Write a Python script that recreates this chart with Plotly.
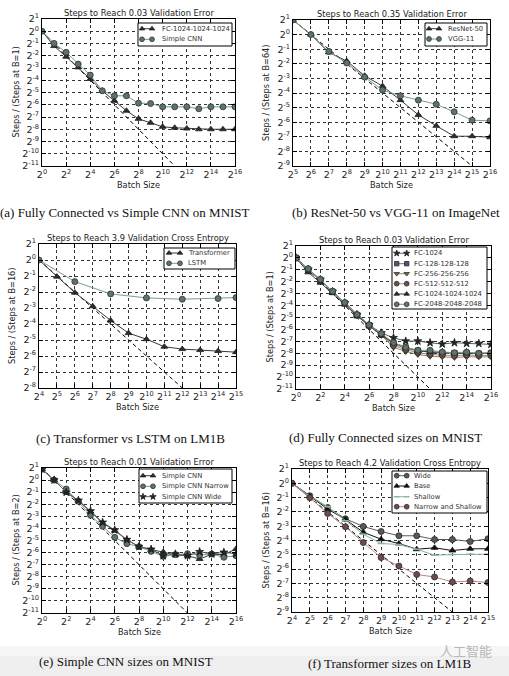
import math
import plotly.graph_objects as go

W, H = 509, 676

# ---------------- data (values are log2 of steps ratio) ----------------
# (a) Fully Connected vs Simple CNN on MNIST
a_batch_log2 = list(range(0, 17))
a_fc_1024x3 = [0, -1.21, -2.08, -2.95, -3.9, -4.86, -5.68, -6.49, -7.15, -7.47, -7.8, -7.88, -7.94, -8.0, -8.0, -8.0, -8.0]
a_simple_cnn = [0, -0.99, -1.72, -2.68, -3.58, -4.86, -5.27, -5.27, -5.87, -5.9, -6.17, -6.17, -6.17, -6.33, -6.17, -6.17, -6.17]
a_ideal_x = [0, 16]
a_ideal_y = [0, -16]

# (b) ResNet-50 vs VGG-11 on ImageNet
b_batch_log2 = list(range(5, 17))
b_resnet50 = [1, 0, -1.22, -1.81, -2.82, -3.53, -4.49, -5.5, -6.25, -6.96, -6.96, -7.03]
b_vgg11 = [1, 0, -1.15, -1.95, -2.91, -3.8, -4.19, -4.49, -4.77, -5.29, -5.86, -5.91]
b_ideal_x = [5, 16]
b_ideal_y = [1, -10]

# (c) Transformer vs LSTM on LM1B
c_batch_log2 = list(range(4, 16))
c_transformer = [0, -1.04, -2.04, -2.89, -3.78, -4.57, -4.95, -5.42, -5.57, -5.63, -5.69, -5.76]
c_lstm_batch_log2 = [4, 6, 8, 10, 12, 14, 15]
c_lstm = [0, -1.35, -2.12, -2.37, -2.45, -2.41, -2.35]
c_ideal_x = [4, 15]
c_ideal_y = [0, -11]

# (d) Fully Connected sizes on MNIST
d_batch_log2 = list(range(0, 17))
d_fc_1024 = [0, -0.95, -1.82, -2.82, -3.77, -4.75, -5.62, -6.3, -6.7, -6.98, -6.98, -7.12, -7.23, -7.12, -7.18, -7.18, -7.26]
d_fc_128x3 = [0, -1.0, -1.85, -2.85, -3.8, -4.8, -5.65, -6.4, -7.2, -7.6, -7.8, -7.9, -8.0, -8.0, -8.0, -8.05, -8.0]
d_fc_256x3 = [0, -1.05, -1.88, -2.85, -3.85, -4.85, -5.7, -6.5, -7.5, -7.85, -8.1, -8.25, -8.3, -8.35, -8.3, -8.3, -8.3]
d_fc_512x3 = [0, -1.0, -1.85, -2.82, -3.8, -4.8, -5.68, -6.45, -7.35, -7.7, -7.95, -8.1, -8.15, -8.2, -8.15, -8.2, -8.2]
d_fc_1024x3 = [0, -1.21, -2.08, -2.95, -3.9, -4.86, -5.68, -6.49, -7.15, -7.47, -7.8, -7.88, -7.94, -8.0, -8.0, -8.0, -8.0]
d_fc_2048x3 = [0, -0.9, -1.8, -2.8, -3.75, -4.75, -5.62, -6.35, -7.1, -7.5, -7.75, -7.75, -7.9, -7.95, -7.9, -8.0, -7.95]
d_ideal_x = [0, 16]
d_ideal_y = [0, -16]

# (e) Simple CNN sizes on MNIST
e_batch_log2 = list(range(0, 17))
e_simple_cnn = [0.9, 0, -1.01, -1.7, -2.61, -3.55, -4.19, -4.93, -5.51, -5.76, -5.95, -6.2, -6.26, -6.53, -6.14, -6.17, -5.7]
e_simple_cnn_narrow = [0.9, 0, -0.74, -1.76, -2.92, -3.83, -4.74, -5.26, -5.51, -5.9, -6.31, -6.17, -6.09, -6.2, -6.12, -6.39, -6.26]
e_simple_cnn_wide = [0.9, 0, -1.01, -1.68, -2.56, -3.5, -4.13, -4.93, -5.51, -5.73, -6.26, -6.12, -6.26, -5.93, -6.12, -5.98, -6.1]
e_ideal_x = [0, 16]
e_ideal_y = [1, -15]

# (f) Transformer sizes on LM1B
f_batch_log2 = list(range(4, 16))
f_wide = [0, -0.87, -1.69, -2.48, -3.02, -3.37, -3.67, -3.67, -3.93, -3.93, -4.07, -3.88]
f_base = [0, -0.9, -1.8, -2.53, -3.42, -3.91, -4.21, -4.61, -4.51, -4.7, -4.58, -4.58]
f_shallow = [0, -0.9, -1.64, -2.62, -3.56, -4.21, -4.28, -4.61, -5.03, -4.98, -4.96, -4.96]
f_narrow_shallow = [0, -1.01, -2.11, -3.04, -4.14, -5.19, -5.78, -6.38, -6.55, -6.9, -6.83, -6.94]
f_ideal_x = [4, 15]
f_ideal_y = [0, -11]

# ---------------- styles ----------------
S_TRI = dict(symbol='triangle-up', size=6, fill='#2e2e2e', edge='#1a1a1a', line='#3a3a3a')
S_TRI_K = dict(symbol='triangle-up', size=6, fill='#111111', edge='#111111', line='#111111')
S_CIRC_G = dict(symbol='circle', size=6, fill='#5f7468', edge='#2a332e', line='#7d9c8a')
S_STAR = dict(symbol='star', size=6, fill='#262626', edge='#1a1a1a', line='#56665f')
S_SQ = dict(symbol='square', size=5.5, fill='#55556a', edge='#2a2a35', line='#70708a')
S_TRI_D = dict(symbol='triangle-down', size=6, fill='#6e6a30', edge='#333333', line='#8d8a55')
S_CIRC_P = dict(symbol='circle', size=6, fill='#6a4e4e', edge='#3a2828', line='#b48a8a')
S_CIRC_W = dict(symbol='circle', size=6, fill='#555b58', edge='#2a2a2a', line='#5a5a5a')
S_SHALLOW = dict(symbol='line-ew', size=5, fill='#8ab59c', edge='#8ab59c', line='#8ab59c', ew=1.5)

FONT = 'DejaVu Sans'
SERIF = 'Liberation Serif'

panels = [
    dict(box=(42, 19, 235, 166), xr=(0, 16), yr=(-11, 1), xstep=2,
         title='Steps to Reach 0.03 Validation Error', ytitle='Steps / (Steps at B=1)',
         caption='(a) Fully Connected vs Simple CNN on MNIST', cap=(125, 212),
         ideal=(a_ideal_x, a_ideal_y),
         series=[('FC-1024-1024-1024', a_batch_log2, a_fc_1024x3, S_TRI),
                 ('Simple CNN', a_batch_log2, a_simple_cnn, S_CIRC_G)],
         leg=dict(box=(138, 23, 232, 46), gx=(142, 152), tx=160, rows=[28.7, 39.3])),
    dict(box=(293, 20, 490, 166), xr=(5, 16), yr=(-9, 1), xstep=1,
         title='Steps to Reach 0.35 Validation Error', ytitle='Steps / (Steps at B=64)',
         caption='(b) ResNet-50 vs VGG-11 on ImageNet', cap=(396, 212),
         ideal=(b_ideal_x, b_ideal_y),
         series=[('ResNet-50', b_batch_log2, b_resnet50, S_TRI),
                 ('VGG-11', b_batch_log2, b_vgg11, S_CIRC_G)],
         leg=dict(box=(425, 23, 487, 46), gx=(429, 439), tx=446, rows=[28.7, 39.0])),
    dict(box=(39, 244, 236, 388), xr=(4, 15), yr=(-8, 1), xstep=1,
         title='Steps to Reach 3.9 Validation Cross Entropy', ytitle='Steps / (Steps at B=16)',
         caption='(c) Transformer vs LSTM on LM1B', cap=(130, 438),
         ideal=(c_ideal_x, c_ideal_y),
         series=[('Transformer', c_batch_log2, c_transformer, S_TRI),
                 ('LSTM', c_lstm_batch_log2, c_lstm, S_CIRC_G)],
         leg=dict(box=(164, 248, 235, 269), gx=(169, 180), tx=186, rows=[253.0, 263.3])),
    dict(box=(296, 246, 491, 389), xr=(0, 16), yr=(-11, 1), xstep=2,
         title='Steps to Reach 0.03 Validation Error', ytitle='Steps / (Steps at B=1)',
         caption='(d) Fully Connected sizes on MNIST', cap=(385, 437),
         ideal=(d_ideal_x, d_ideal_y),
         series=[('FC-1024', d_batch_log2, d_fc_1024, S_STAR),
                 ('FC-128-128-128', d_batch_log2, d_fc_128x3, S_SQ),
                 ('FC-256-256-256', d_batch_log2, d_fc_256x3, S_TRI_D),
                 ('FC-512-512-512', d_batch_log2, d_fc_512x3, S_CIRC_P),
                 ('FC-1024-1024-1024', d_batch_log2, d_fc_1024x3, S_TRI),
                 ('FC-2048-2048-2048', d_batch_log2, d_fc_2048x3, S_CIRC_G)],
         leg=dict(box=(392, 247, 487, 309), gx=(396.7, 406.7), tx=412,
                  rows=[253.3, 263.7, 273.7, 283.7, 294.0, 304.3])),
    dict(box=(42, 468, 236, 613), xr=(0, 16), yr=(-11, 1), xstep=2,
         title='Steps to Reach 0.01 Validation Error', ytitle='Steps / (Steps at B=2)',
         caption='(e) Simple CNN sizes on MNIST', cap=(126, 661),
         ideal=(e_ideal_x, e_ideal_y),
         series=[('Simple CNN', e_batch_log2, e_simple_cnn, S_TRI),
                 ('Simple CNN Narrow', e_batch_log2, e_simple_cnn_narrow, S_CIRC_G),
                 ('Simple CNN Wide', e_batch_log2, e_simple_cnn_wide, S_STAR)],
         leg=dict(box=(139, 469, 232, 503), gx=(143, 153), tx=160, rows=[475.7, 486.3, 496.7])),
    dict(box=(292, 469, 488, 612), xr=(4, 15), yr=(-9, 1), xstep=1,
         title='Steps to Reach 4.2 Validation Cross Entropy', ytitle='Steps / (Steps at B=16)',
         caption='(f) Transformer sizes on LM1B', cap=(390, 663),
         ideal=(f_ideal_x, f_ideal_y),
         series=[('Wide', f_batch_log2, f_wide, S_CIRC_W),
                 ('Base', f_batch_log2, f_base, S_TRI_K),
                 ('Shallow', f_batch_log2, f_shallow, S_SHALLOW),
                 ('Narrow and Shallow', f_batch_log2, f_narrow_shallow, S_CIRC_P)],
         leg=dict(box=(392, 471, 487, 513), gx=(396.7, 406.7), tx=412,
                  rows=[475.7, 486.0, 496.7, 506.7])),
]


def sup(k):
    return '2<sup>%d</sup>' % k


def marker_of(st, scale=1.0):
    return dict(symbol=st['symbol'], size=st['size'] * scale, color=st['fill'],
                line=dict(color=st['edge'], width=st.get('ew', 0.8)))


fig = go.Figure()
layout = dict(width=W, height=H, autosize=False, margin=dict(l=0, r=0, t=0, b=0, autoexpand=False),
              paper_bgcolor='white', plot_bgcolor='rgba(0,0,0,0)', showlegend=False)
annotations = []
shapes = []

for i, p in enumerate(panels, start=1):
    xa = 'x' if i == 1 else 'x%d' % i
    ya = 'y' if i == 1 else 'y%d' % i
    L, T, R, B = p['box']
    xlo, xhi = p['xr']
    ylo, yhi = p['yr']
    xt = list(range(xlo, xhi + 1, p['xstep']))
    yt = list(range(ylo, yhi + 1))
    common = dict(type='log', showline=True, linecolor='black', linewidth=1, mirror='allticks',
                  ticks='inside', ticklen=4, tickcolor='black', tickwidth=1,
                  showgrid=True, gridcolor='#333333', gridwidth=0.7, griddash='dot',
                  zeroline=False, automargin=False,
                  tickfont=dict(family=FONT, size=9.5, color='#222222'))
    layout['xaxis' if i == 1 else 'xaxis%d' % i] = dict(
        common, domain=[L / W, R / W], anchor=ya,
        range=[xlo * math.log10(2), xhi * math.log10(2)],
        tickvals=[2 ** k for k in xt], ticktext=[sup(k) for k in xt])
    layout['yaxis' if i == 1 else 'yaxis%d' % i] = dict(
        common, domain=[1 - B / H, 1 - T / H], anchor=xa,
        range=[ylo * math.log10(2), yhi * math.log10(2)],
        tickvals=[2.0 ** k for k in yt], ticktext=[sup(k) for k in yt])

    ix, iy = p['ideal']
    fig.add_trace(go.Scatter(x=[2 ** v for v in ix], y=[2.0 ** v for v in iy], mode='lines',
                             line=dict(color='black', width=1, dash='4px,3px'),
                             xaxis=xa, yaxis=ya, hoverinfo='skip', cliponaxis=True))
    for name, xs, ys, st in p['series']:
        fig.add_trace(go.Scatter(x=[2 ** v for v in xs], y=[2.0 ** v for v in ys], name=name,
                                 mode='lines+markers', line=dict(color=st['line'], width=1),
                                 marker=marker_of(st), xaxis=xa, yaxis=ya, cliponaxis=True))

    cx = (L + R) / 2
    annotations.append(dict(text=p['title'], x=cx / W, y=1 - (T - 6) / H, xref='paper', yref='paper',
                            xanchor='center', yanchor='middle', showarrow=False,
                            font=dict(family=FONT, size=8.3, color='#222222')))
    annotations.append(dict(text='Batch Size', x=cx / W, y=1 - (B + 19) / H, xref='paper', yref='paper',
                            xanchor='center', yanchor='middle', showarrow=False,
                            font=dict(family=FONT, size=8.2, color='#222222')))
    annotations.append(dict(text=p['ytitle'], x=(L - 27) / W, y=1 - ((T + B) / 2) / H,
                            xref='paper', yref='paper', xanchor='center', yanchor='middle',
                            textangle=-90, showarrow=False,
                            font=dict(family=FONT, size=8.2, color='#222222')))
    annotations.append(dict(text=p['caption'], x=p['cap'][0] / W, y=1 - p['cap'][1] / H,
                            xref='paper', yref='paper', xanchor='center', yanchor='middle',
                            showarrow=False, font=dict(family=SERIF, size=13, color='#111111')))

# overlay pixel-coordinate axes for legend boxes and glyphs
layout['xaxis7'] = dict(domain=[0, 1], range=[0, W], visible=False, anchor='y7', fixedrange=True)
layout['yaxis7'] = dict(domain=[0, 1], range=[H, 0], visible=False, anchor='x7', fixedrange=True)

# light grey band at the bottom of the screenshot
shapes.append(dict(type='rect', xref='x7', yref='y7', x0=0, x1=W, y0=646, y1=656,
                   fillcolor='#f7f7f7', line=dict(width=0), layer='below'))
shapes.append(dict(type='rect', xref='x7', yref='y7', x0=0, x1=W, y0=656, y1=H,
                   fillcolor='#efefef', line=dict(width=0), layer='below'))

for p in panels:
    lg = p['leg']
    bl, bt, br, bb = lg['box']
    shapes.append(dict(type='rect', xref='x7', yref='y7', x0=bl, x1=br, y0=bt, y1=bb,
                       fillcolor='white', line=dict(color='black', width=1), layer='below'))
    for (name, xs, ys, st), ry in zip(p['series'], lg['rows']):
        fig.add_trace(go.Scatter(x=list(lg['gx']), y=[ry, ry], mode='lines+markers',
                                 line=dict(color=st['line'], width=1), marker=marker_of(st, 0.8),
                                 xaxis='x7', yaxis='y7', hoverinfo='skip', cliponaxis=False))
        annotations.append(dict(text=name, x=lg['tx'] / W, y=1 - ry / H, xref='paper', yref='paper',
                                xanchor='left', yanchor='middle', showarrow=False,
                                font=dict(family=FONT, size=6.8, color='#333333')))

# watermark
annotations.append(dict(text='人工智能', x=494 / W, y=1 - 650 / H, xref='paper', yref='paper',
                        xanchor='right', yanchor='middle', showarrow=False,
                        font=dict(family='Noto Sans CJK SC', size=13, color='#b8b8b8')))

layout['annotations'] = annotations
layout['shapes'] = shapes
fig.update_layout(**layout)
fig.write_html('out.html', config={'displayModeBar': False},
               post_script="document.body.style.margin='0';document.body.style.overflow='hidden';")
